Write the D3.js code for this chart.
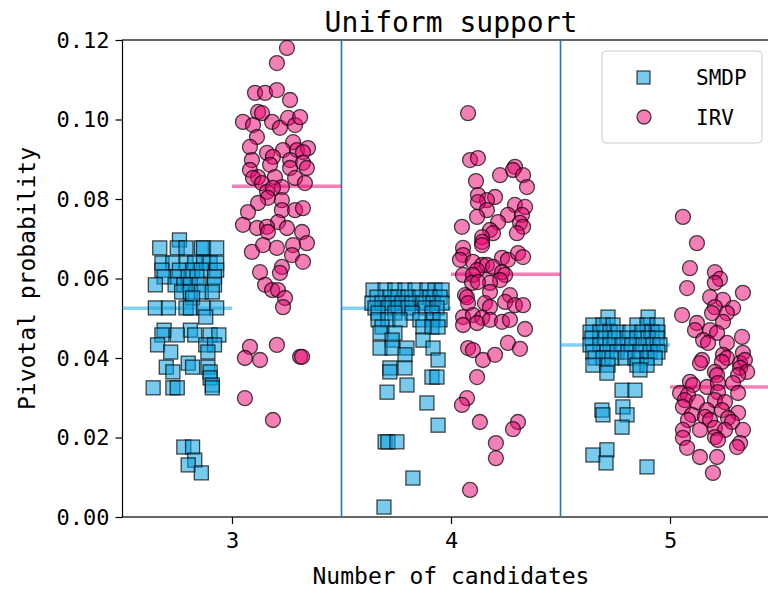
<!DOCTYPE html>
<meta charset="utf-8">
<style>
  body { margin: 0; background: #fff; }
  svg { display: block; overflow: hidden; }
  text { font-family: "DejaVu Sans Mono", monospace; fill: #000; }
  .axis path, .axis line { stroke: #000; stroke-width: 1.2px; }
  .axis text { font-size: 22px; }
</style>
<body>
<div id="chart"></div>
<script src="https://d3js.org/d3.v7.min.js"></script>
<script>
// categories (number of candidates) and the y ticks
var categories = [3, 4, 5];
var yTicks = [0, 0.02, 0.04, 0.06, 0.08, 0.10, 0.12];

// mean lines
var smdpMean = [0.0525, 0.0525, 0.0433];
var irvMean = [0.0832, 0.0611, 0.0327];

// points: [jitter offset in category units, pivotal probability]
var smdp3 = [[-0.24,0.0697],
  [-0.33,0.0677],[-0.25,0.0677],[-0.21,0.0677],[-0.14,0.0677],[-0.13,0.0677],[-0.07,0.0677],
  [-0.32,0.0639],[-0.27,0.0639],[-0.21,0.0639],[-0.17,0.0639],[-0.13,0.0639],[-0.10,0.0639],[-0.07,0.0639],
  [-0.32,0.0621],[-0.24,0.0621],[-0.18,0.0621],[-0.14,0.0621],[-0.07,0.0621],
  [-0.31,0.0604],[-0.25,0.0604],[-0.20,0.0604],[-0.16,0.0604],[-0.08,0.0604],
  [-0.35,0.0584],[-0.26,0.0584],[-0.22,0.0584],[-0.19,0.0584],[-0.15,0.0584],[-0.08,0.0584],
  [-0.23,0.0566],[-0.19,0.0566],[-0.14,0.0566],[-0.09,0.0566],
  [-0.18,0.0551],
  [-0.35,0.0526],[-0.29,0.0526],[-0.21,0.0526],[-0.19,0.0526],[-0.13,0.0526],[-0.07,0.0526],
  [-0.12,0.0503],
  [-0.31,0.0470],[-0.19,0.0470],
  [-0.32,0.0458],[-0.25,0.0458],[-0.17,0.0458],[-0.10,0.0458],[-0.06,0.0458],
  [-0.34,0.0433],[-0.12,0.0433],[-0.08,0.0433],
  [-0.28,0.0415],[-0.11,0.0415],
  [-0.20,0.0387],
  [-0.30,0.0377],[-0.18,0.0377],[-0.11,0.0377],
  [-0.27,0.0365],[-0.10,0.0365],
  [-0.10,0.0350],
  [-0.09,0.0332],
  [-0.36,0.0325],[-0.27,0.0325],[-0.25,0.0325],[-0.09,0.0325],
  [-0.22,0.0176],[-0.18,0.0176],
  [-0.17,0.0143],
  [-0.20,0.0131],
  [-0.14,0.0111]];

var smdp4 = [[-0.356,0.0571],[-0.301,0.0571],[-0.256,0.0571],[-0.210,0.0571],[-0.164,0.0571],[-0.110,0.0571],[-0.073,0.0571],[-0.041,0.0571],
  [-0.338,0.0553],[-0.279,0.0553],[-0.242,0.0553],[-0.196,0.0553],[-0.142,0.0553],[-0.096,0.0553],[-0.050,0.0553],
  [-0.361,0.0538],[-0.315,0.0538],[-0.269,0.0538],[-0.224,0.0538],[-0.178,0.0538],[-0.128,0.0538],[-0.082,0.0538],[-0.041,0.0538],
  [-0.347,0.0526],[-0.288,0.0526],[-0.242,0.0526],[-0.196,0.0526],[-0.119,0.0526],[-0.064,0.0526],
  [-0.333,0.0513],[-0.256,0.0513],[-0.178,0.0513],[-0.087,0.0513],
  [-0.333,0.0496],[-0.288,0.0496],[-0.233,0.0496],[-0.142,0.0496],[-0.082,0.0496],[-0.050,0.0496],
  [-0.315,0.0478],[-0.128,0.0478],[-0.087,0.0478],[-0.059,0.0478],
  [-0.324,0.0463],[-0.256,0.0463],
  [-0.269,0.0445],[-0.128,0.0445],
  [-0.324,0.0425],[-0.269,0.0425],[-0.201,0.0425],[-0.082,0.0425],
  [-0.210,0.0408],
  [-0.059,0.0395],
  [-0.279,0.0375],[-0.210,0.0375],
  [-0.279,0.0365],
  [-0.087,0.0352],[-0.064,0.0352],
  [-0.201,0.0332],
  [-0.292,0.0314],
  [-0.110,0.0287],
  [-0.059,0.0231],
  [-0.301,0.0189],[-0.288,0.0189],[-0.247,0.0189],
  [-0.174,0.0098],
  [-0.306,0.0025]];

var smdp5 = [[-0.283,0.0503],[-0.100,0.0503],
  [-0.352,0.0483],[-0.306,0.0483],[-0.260,0.0483],[-0.151,0.0483],[-0.105,0.0483],[-0.059,0.0483],
  [-0.365,0.0465],[-0.320,0.0465],[-0.274,0.0465],[-0.237,0.0465],[-0.183,0.0465],[-0.128,0.0465],[-0.082,0.0465],[-0.055,0.0465],
  [-0.356,0.0450],[-0.297,0.0450],[-0.251,0.0450],[-0.196,0.0450],[-0.151,0.0450],[-0.100,0.0450],[-0.059,0.0450],
  [-0.365,0.0433],[-0.320,0.0433],[-0.274,0.0433],[-0.219,0.0433],[-0.174,0.0433],[-0.123,0.0433],[-0.078,0.0433],[-0.046,0.0433],
  [-0.352,0.0415],[-0.288,0.0415],[-0.242,0.0415],[-0.192,0.0415],[-0.137,0.0415],[-0.091,0.0415],[-0.055,0.0415],
  [-0.342,0.0400],[-0.306,0.0400],[-0.265,0.0400],[-0.205,0.0400],[-0.160,0.0400],[-0.105,0.0400],[-0.068,0.0400],
  [-0.352,0.0382],[-0.283,0.0382],[-0.151,0.0382],[-0.105,0.0382],
  [-0.137,0.0370],
  [-0.288,0.0362],
  [-0.219,0.0319],[-0.160,0.0319],
  [-0.215,0.0277],
  [-0.311,0.0269],
  [-0.306,0.0257],[-0.196,0.0257],
  [-0.219,0.0226],
  [-0.288,0.0169],
  [-0.352,0.0156],
  [-0.292,0.0136],
  [-0.105,0.0126]];

var irv3 = [[0.251,0.1180],[0.205,0.1142],[0.105,0.1067],[0.151,0.1067],[0.205,0.1074],[0.265,0.1049],
  [0.119,0.1019],[0.137,0.1016],[0.050,0.0994],[0.096,0.0986],[0.183,0.0994],[0.219,0.0979],[0.256,0.1004],
  [0.288,0.0986],[0.311,0.1006],[0.114,0.0956],[0.082,0.0931],[0.279,0.0943],[0.160,0.0916],[0.233,0.0923],
  [0.297,0.0923],[0.347,0.0928],[0.324,0.0918],[0.187,0.0906],[0.091,0.0898],[0.265,0.0898],[0.324,0.0891],
  [0.174,0.0886],[0.082,0.0873],[0.265,0.0878],[0.342,0.0878],[0.119,0.0855],[0.196,0.0855],[0.288,0.0853],
  [0.096,0.0853],[0.137,0.0840],[0.333,0.0840],[0.228,0.0830],[0.160,0.0818],[0.187,0.0828],[0.164,0.0803],
  [0.119,0.0790],[0.228,0.0797],[0.228,0.0772],[0.073,0.0767],[0.288,0.0772],[0.324,0.0777],[0.210,0.0742],
  [0.050,0.0735],[0.114,0.0727],[0.160,0.0730],[0.251,0.0727],[0.320,0.0717],[0.164,0.0717],[0.091,0.0667],
  [0.142,0.0684],[0.205,0.0677],[0.279,0.0684],[0.342,0.0689],[0.274,0.0659],[0.324,0.0642],[0.128,0.0616],
  [0.228,0.0629],[0.219,0.0614],[0.151,0.0584],[0.183,0.0571],[0.210,0.0571],[0.242,0.0551],[0.233,0.0528],
  [0.082,0.0428],[0.205,0.0433],[0.059,0.0400],[0.128,0.0395],[0.311,0.0403],[0.320,0.0403],
  [0.059,0.0299],[0.187,0.0244]];

var irv4 = [[0.078,0.1016],[0.087,0.0898],[0.123,0.0903],[0.292,0.0881],[0.283,0.0873],[0.329,0.0860],
  [0.224,0.0860],[0.114,0.0845],[0.347,0.0830],[0.123,0.0810],[0.201,0.0805],[0.164,0.0797],[0.123,0.0792],
  [0.164,0.0772],[0.292,0.0785],[0.338,0.0780],[0.260,0.0760],[0.324,0.0760],[0.315,0.0740],[0.329,0.0730],
  [0.301,0.0714],[0.119,0.0755],[0.215,0.0742],[0.050,0.0730],[0.178,0.0722],[0.192,0.0714],[0.142,0.0704],
  [0.142,0.0692],[0.142,0.0684],[0.055,0.0677],[0.055,0.0659],[0.041,0.0647],[0.233,0.0652],[0.260,0.0647],
  [0.306,0.0664],[0.329,0.0654],[0.100,0.0642],[0.142,0.0634],[0.164,0.0634],[0.192,0.0629],[0.119,0.0621],
  [0.233,0.0616],[0.247,0.0609],[0.055,0.0609],[0.100,0.0609],[0.224,0.0596],[0.096,0.0589],[0.178,0.0589],
  [0.123,0.0591],[0.064,0.0558],[0.178,0.0566],[0.269,0.0558],[0.073,0.0553],[0.078,0.0538],[0.155,0.0538],
  [0.178,0.0528],[0.247,0.0541],[0.292,0.0533],[0.329,0.0533],[0.055,0.0503],[0.100,0.0508],[0.142,0.0501],
  [0.055,0.0483],[0.119,0.0488],[0.178,0.0496],[0.233,0.0491],[0.269,0.0496],[0.338,0.0473],[0.078,0.0425],
  [0.100,0.0420],[0.146,0.0395],[0.201,0.0408],[0.260,0.0438],[0.315,0.0423],[0.119,0.0352],[0.073,0.0299],
  [0.050,0.0282],[0.132,0.0239],[0.306,0.0239],[0.283,0.0221],[0.205,0.0186],[0.205,0.0148],[0.087,0.0068]];

var irv5 = [[0.059,0.0755],[0.123,0.0689],[0.091,0.0626],[0.205,0.0616],[0.228,0.0599],[0.205,0.0589],
  [0.078,0.0576],[0.333,0.0564],[0.183,0.0553],[0.242,0.0546],[0.205,0.0528],[0.288,0.0526],[0.260,0.0513],
  [0.055,0.0508],[0.192,0.0513],[0.123,0.0488],[0.242,0.0491],[0.114,0.0470],[0.183,0.0470],[0.215,0.0463],
  [0.151,0.0445],[0.174,0.0438],[0.260,0.0438],[0.329,0.0453],[0.333,0.0413],[0.242,0.0408],[0.260,0.0400],
  [0.146,0.0395],[0.137,0.0387],[0.237,0.0390],[0.320,0.0387],[0.342,0.0395],[0.320,0.0375],[0.352,0.0365],
  [0.205,0.0365],[0.215,0.0357],[0.311,0.0357],[0.091,0.0340],[0.105,0.0332],[0.169,0.0327],[0.219,0.0337],
  [0.288,0.0337],[0.046,0.0312],[0.082,0.0307],[0.219,0.0314],[0.311,0.0312],[0.068,0.0294],[0.123,0.0289],
  [0.205,0.0294],[0.251,0.0289],[0.059,0.0277],[0.100,0.0257],[0.169,0.0269],[0.237,0.0269],[0.311,0.0262],
  [0.160,0.0252],[0.183,0.0244],[0.265,0.0249],[0.283,0.0239],[0.082,0.0244],[0.137,0.0219],[0.205,0.0224],
  [0.251,0.0219],[0.333,0.0219],[0.059,0.0219],[0.059,0.0199],[0.205,0.0201],[0.219,0.0194],[0.320,0.0186],
  [0.306,0.0176],[0.078,0.0174],[0.137,0.0151],[0.215,0.0151],[0.196,0.0111]];

var smdpPoints = [smdp3, smdp4, smdp5];
var irvPoints = [irv3, irv4, irv5];

var W = 768, H = 589;
var mLeft = 122.5, mRight = 779.5, mTop = 40, mBottom = 517;

var smdpColor = "#0ba0e0";
var irvColor = "#e8006e";

var svg = d3.select("#chart").append("svg")
  .attr("width", W)
  .attr("height", H);

var x = d3.scaleLinear().domain([2.5, 5.5]).range([mLeft, mRight]);
var y = d3.scaleLinear().domain([0, 0.12]).range([mBottom, mTop]);

// frame
svg.append("rect")
  .attr("x", mLeft).attr("y", mTop)
  .attr("width", mRight - mLeft).attr("height", mBottom - mTop)
  .attr("fill", "none").attr("stroke", "#000").attr("stroke-width", 1.2);

// group dividers
svg.selectAll(".divider")
  .data([3.5, 4.5])
  .enter().append("line")
  .attr("class", "divider")
  .attr("x1", function (d) { return x(d); })
  .attr("x2", function (d) { return x(d); })
  .attr("y1", mTop).attr("y2", mBottom)
  .attr("stroke", "#1f77b4").attr("stroke-width", 1.6);

// mean lines
var means = svg.append("g");
means.selectAll(".smdp-mean")
  .data(categories)
  .enter().append("line")
  .attr("x1", function (d) { return x(d - 0.5); })
  .attr("x2", function (d) { return x(d); })
  .attr("y1", function (d, i) { return y(smdpMean[i]); })
  .attr("y2", function (d, i) { return y(smdpMean[i]); })
  .attr("stroke", smdpColor).attr("stroke-opacity", 0.5).attr("stroke-width", 3.5);
means.selectAll(".irv-mean")
  .data(categories)
  .enter().append("line")
  .attr("x1", function (d) { return x(d); })
  .attr("x2", function (d) { return x(d + 0.5); })
  .attr("y1", function (d, i) { return y(irvMean[i]); })
  .attr("y2", function (d, i) { return y(irvMean[i]); })
  .attr("stroke", irvColor).attr("stroke-opacity", 0.5).attr("stroke-width", 3.5);

// squares
var sq = 14;
categories.forEach(function (c, i) {
  svg.append("g").selectAll("rect")
    .data(smdpPoints[i])
    .enter().append("rect")
    .attr("x", function (d) { return x(c + d[0]) - sq / 2; })
    .attr("y", function (d) { return y(d[1]) - sq / 2; })
    .attr("width", sq).attr("height", sq)
    .attr("fill", smdpColor).attr("fill-opacity", 0.55)
    .attr("stroke", "#000").attr("stroke-opacity", 0.7).attr("stroke-width", 1.3);
});

// circles
categories.forEach(function (c, i) {
  svg.append("g").selectAll("circle")
    .data(irvPoints[i])
    .enter().append("circle")
    .attr("cx", function (d) { return x(c + d[0]); })
    .attr("cy", function (d) { return y(d[1]); })
    .attr("r", 7.5)
    .attr("fill", irvColor).attr("fill-opacity", 0.5)
    .attr("stroke", "#000").attr("stroke-opacity", 0.7).attr("stroke-width", 1.3);
});

// axes
svg.append("g")
  .attr("class", "axis")
  .attr("transform", "translate(0," + mBottom + ")")
  .call(d3.axisBottom(x).tickValues(categories).tickSize(7).tickPadding(8).tickFormat(d3.format("d")))
  .call(function (g) { g.select(".domain").remove(); });

svg.append("g")
  .attr("class", "axis")
  .attr("transform", "translate(" + mLeft + ",0)")
  .call(d3.axisLeft(y).tickValues(yTicks).tickSize(7).tickPadding(6).tickFormat(d3.format(".2f")))
  .call(function (g) { g.select(".domain").remove(); });

// title and labels
svg.append("text")
  .attr("x", (mLeft + mRight) / 2).attr("y", 32)
  .attr("text-anchor", "middle")
  .style("font-size", "28px")
  .text("Uniform support");

svg.append("text")
  .attr("x", (mLeft + mRight) / 2).attr("y", 584)
  .attr("text-anchor", "middle")
  .style("font-size", "23px")
  .text("Number of candidates");

svg.append("text")
  .attr("transform", "translate(35," + (mTop + mBottom) / 2 + ") rotate(-90)")
  .attr("text-anchor", "middle")
  .style("font-size", "23px")
  .text("Pivotal probability");

// legend
var lg = svg.append("g").attr("transform", "translate(602,51)");
lg.append("rect")
  .attr("width", 160).attr("height", 92).attr("rx", 4)
  .attr("fill", "#fff").attr("fill-opacity", 0.8)
  .attr("stroke", "#ccc");
lg.append("rect")
  .attr("x", 35).attr("y", 20).attr("width", 13).attr("height", 13)
  .attr("fill", smdpColor).attr("fill-opacity", 0.55)
  .attr("stroke", "#000").attr("stroke-opacity", 0.7).attr("stroke-width", 1.3);
lg.append("circle")
  .attr("cx", 42).attr("cy", 66).attr("r", 7)
  .attr("fill", irvColor).attr("fill-opacity", 0.5)
  .attr("stroke", "#000").attr("stroke-opacity", 0.7).attr("stroke-width", 1.3);
lg.append("text").attr("x", 94).attr("y", 34).style("font-size", "21px").text("SMDP");
lg.append("text").attr("x", 94).attr("y", 74).style("font-size", "21px").text("IRV");
</script>
</body>
